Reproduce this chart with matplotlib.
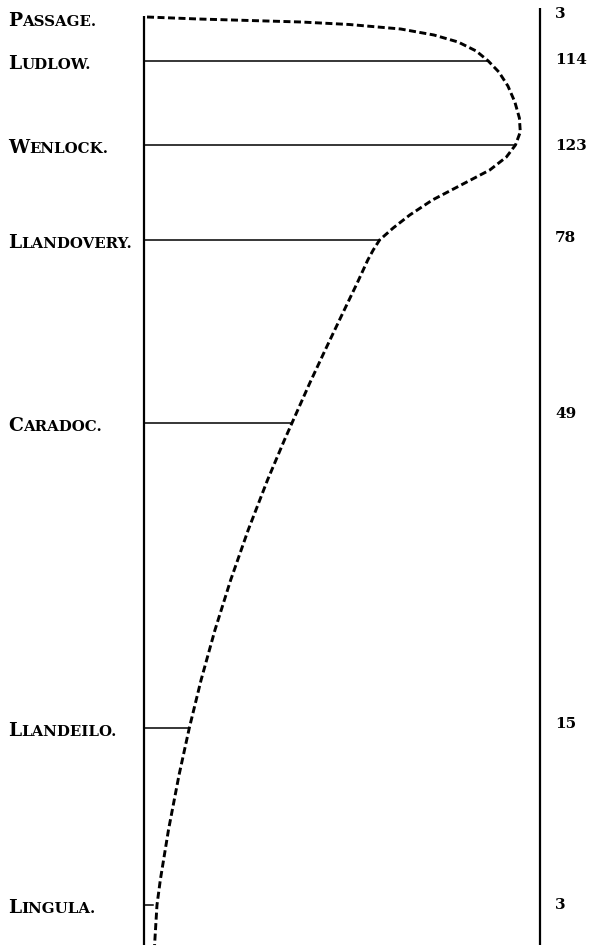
import matplotlib
matplotlib.use("Agg")
import matplotlib.pyplot as plt

# stages, number of species, and position of each stage down the column
stages = ["Passage.", "Ludlow.", "Wenlock.", "Llandovery.", "Caradoc.", "Llandeilo.", "Lingula."]
species = [3, 114, 123, 78, 49, 15, 3]
levels = [18, 61, 145, 240, 423, 728, 905]

# hand-drawn dashed curve through the bar ends (species, level)
curve_species = [1, 18, 35, 52, 68, 85, 96, 104, 110, 114, 117.5, 120.5, 122.8,
                 124.3, 124.6, 123, 120, 114.5, 105, 95.5, 88, 82.5, 78, 75.9,
                 74.1, 70.6, 65.2, 60, 54.9, 49, 46.5, 40.9, 34.5, 28.7, 23.5,
                 18.9, 15, 11.6, 8.1, 5.4, 4.3, 3.5]
curve_levels = [17, 19, 20.5, 22, 24.5, 29, 35, 42, 51, 61, 72, 86, 102,
                118, 132, 145, 157, 170, 185, 200, 215, 228, 240, 250,
                260, 283, 317, 350, 383, 423, 440, 480, 530, 580, 630,
                680, 728, 775, 830, 880, 905, 945]

W, H = 591, 952
x0 = 144      # pixel column of the left rule
scale = 3.02  # pixels per species
count_rows = [14, 60, 146, 238, 414, 724, 905]  # where the right-hand numbers sit

fig = plt.figure(figsize=(W / 100, H / 100), dpi=100)
ax = fig.add_axes([0, 0, 1, 1])
ax.set_xlim(-x0 / scale, (W - x0) / scale)
ax.set_ylim(H, 0)
ax.axis("off")

# left and right rules
ax.plot([0, 0], [16, 945], color="black", lw=1.6, solid_capstyle="butt")
ax.plot([(540 - x0) / scale] * 2, [8, 945], color="black", lw=1.6, solid_capstyle="butt")

# horizontal bars
for n, y in zip(species[1:], levels[1:]):
    ax.plot([0, n], [y, y], color="black", lw=1.1)

# dashed curve
ax.plot(curve_species, curve_levels, color="black", lw=2.1,
        linestyle=(0, (2.4, 1.2)), dash_capstyle="butt")

font = dict(family="DejaVu Serif", weight="bold", color="black")
ylab = ax.get_yaxis_transform()

# small-caps stage labels on the left
for name, y in zip(stages, levels):
    t = ax.text(0.014, y + 8, name[0], transform=ylab, fontsize=13.5,
                ha="left", va="baseline", **font)
    ax.annotate(name[1:].upper(), xy=(1, y + 8), xycoords=(t, "data"),
                fontsize=10.8, ha="left", va="baseline", **font)

# counts on the right
for n, y in zip(species, count_rows):
    ax.text(0.939, y, str(n), transform=ylab, fontsize=11,
            ha="left", va="center", **font)

fig.savefig("out.png", dpi=100, facecolor="white")
